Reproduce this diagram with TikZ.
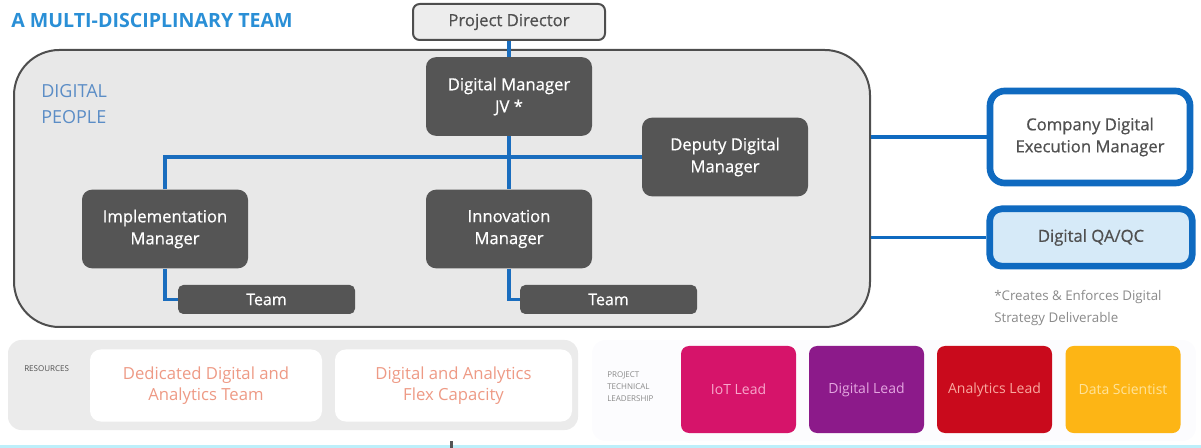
\documentclass[tikz,border=0pt]{standalone}
\usepackage{fontspec}
\setmainfont{Open Sans}
\newfontfamily\medfont{Open Sans}[FakeBold=0.6]
\definecolor{titleblue}{HTML}{2A8FD6}
\definecolor{peopleblue}{HTML}{5B8DC6}
\definecolor{lineblue}{HTML}{1A6DBE}
\definecolor{thickblue}{HTML}{0F6AC0}
\definecolor{dkbox}{HTML}{555555}
\definecolor{bigfill}{HTML}{E8E8E8}
\definecolor{bordergray}{HTML}{4E4E4E}
\definecolor{pdfill}{HTML}{EDEDED}
\definecolor{txtgray}{HTML}{505050}
\definecolor{notegray}{HTML}{8A8A8A}
\definecolor{panelfill}{HTML}{EBEBEB}
\definecolor{salmon}{HTML}{EE9A85}
\definecolor{qafill}{HTML}{D6EAF8}
\definecolor{iotc}{HTML}{D6146A}
\definecolor{digc}{HTML}{8C1A8A}
\definecolor{anac}{HTML}{C90A1C}
\definecolor{datc}{HTML}{FDB515}
\definecolor{iott}{HTML}{F7A8CB}
\definecolor{digt}{HTML}{E4A6E0}
\definecolor{anat}{HTML}{F9A9A0}
\definecolor{datt}{HTML}{FFE39A}
\definecolor{cyanline}{HTML}{BDEFFA}
\begin{document}
\begin{tikzpicture}[x=0.75pt,y=-0.75pt,
  darkbox/.style={rounded corners=7.5pt, fill=dkbox, draw=none, text=white,
    font=\medfont\fontsize{12.5}{16.5}\selectfont, align=center,
    minimum width=124.5pt, minimum height=59pt, inner sep=0pt},
  teambox/.style={darkbox, minimum width=132.75pt, minimum height=21.75pt, rounded corners=4pt,
    font=\medfont\fontsize{12}{14}\selectfont},
  conn/.style={draw=lineblue, line width=2.4pt},
  rconn/.style={draw=thickblue, line width=2.6pt},
  bluebox/.style={draw=thickblue, line width=5pt, rounded corners=11pt, align=center,
    text=txtgray, font=\medfont\fontsize{12.5}{16.5}\selectfont, inner sep=0pt},
  panel/.style={fill=panelfill, draw=none, rounded corners=10pt, inner sep=0pt},
  resbox/.style={fill=white, draw=none, rounded corners=8pt, inner sep=0pt, align=center,
    text=salmon, font=\fontsize{12.5}{16}\selectfont, minimum width=174pt, minimum height=54pt},
  leadbox/.style={draw=none, rounded corners=6pt, inner sep=0pt, align=center,
    font=\fontsize{10.5}{13}\selectfont, minimum width=86.25pt, minimum height=65.25pt},
  tiny/.style={font=\fontsize{6}{9}\selectfont, align=left, inner sep=0pt}
]
\useasboundingbox (0,0) rectangle (1201,448);
% title
\node[anchor=west, inner sep=0pt, text=titleblue, font=\bfseries\fontsize{14.7}{17}\selectfont] (title) at (11,21) {A MULTI-DISCIPLINARY TEAM};
% big container
\node[draw=bordergray, fill=bigfill, line width=1.5pt, rounded corners=34pt,
  minimum width=642pt, minimum height=207.75pt, inner sep=0pt] (people) at (442,188.5) {};
\node[anchor=north west, align=left, inner sep=0pt, text=peopleblue,
  font=\fontsize{13.5}{20}\selectfont] (dp) at (41,84) {DIGITAL\\PEOPLE};
% project director
\node[draw=bordergray, fill=pdfill, line width=1.5pt, rounded corners=5pt,
  minimum width=144pt, minimum height=27pt, inner sep=0pt, text=txtgray,
  font=\medfont\fontsize{12.5}{15}\selectfont] (pd) at (509,22) {Project Director};
% managers
\node[darkbox] (dm) at (509,96.5) {Digital Manager\\JV *};
\node[darkbox] (ddm) at (725,157) {Deputy Digital\\Manager};
\node[darkbox] (im) at (165,229) {Implementation\\Manager};
\node[darkbox] (inm) at (509,229) {Innovation\\Manager};
\node[teambox] (tl) at (266.5,299.5) {Team};
\node[teambox] (tr) at (608.5,299.5) {Team};
% connectors
\draw[conn] (pd.south) -- (dm.north);
\draw[conn] (dm.south) -- (inm.north);
\draw[conn] (im.north) |- (ddm.west);
\draw[conn] (im.south) |- (tl.west);
\draw[conn] (inm.south) |- (tr.west);
% right boxes
\node[bluebox, fill=white, minimum width=150pt, minimum height=69pt] (cdem) at (1090,137) {Company Digital\\Execution Manager};
\node[bluebox, fill=qafill, minimum width=152pt, minimum height=43pt, rounded corners=9pt] (qa) at (1091,237.5) {Digital QA/QC};
\draw[rconn] (cdem.west -| people.east) -- (cdem.west);
\draw[rconn] (qa.west -| people.east) -- (qa.west);
\node[anchor=north west, align=left, inner sep=0pt, text=notegray,
  font=\fontsize{10}{16.5}\selectfont] (note) at (994,290) {*Creates \& Enforces Digital\\Strategy Deliverable};
% resources panel
\node[panel, minimum width=427.5pt, minimum height=67.5pt] (res) at (293,385) {};
\node[tiny, anchor=west, text=txtgray] (reslab) at (24,369) {RESOURCES};
\node[resbox] (r1) at (206,385.5) {Dedicated Digital and\\Analytics Team};
\node[resbox, minimum width=177.75pt] (r2) at (453.5,385.5) {Digital and Analytics\\Flex Capacity};
% leadership panel
\node[panel, fill=panelfill!85!blue!6, minimum width=453pt, minimum height=75.75pt] (lead) at (894,390.5) {};
\node[tiny, anchor=west, text=notegray] (leadlab) at (607,387) {PROJECT\\TECHNICAL\\LEADERSHIP};
\node[leadbox, fill=iotc, text=iott] (iot) at (738.5,389.5) {IoT Lead};
\node[leadbox, fill=digc, text=digt] (dig) at (866.5,389.5) {Digital Lead};
\node[leadbox, fill=anac, text=anat] (ana) at (994.5,389.5) {Analytics Lead};
\node[leadbox, fill=datc, text=datt] (dat) at (1123,389.5) {Data Scientist};
% bottom strip
\fill[cyanline] (0,445) rectangle (1201,448);
\fill[dkbox] (450,441) rectangle (453,448);
\end{tikzpicture}
\end{document}
